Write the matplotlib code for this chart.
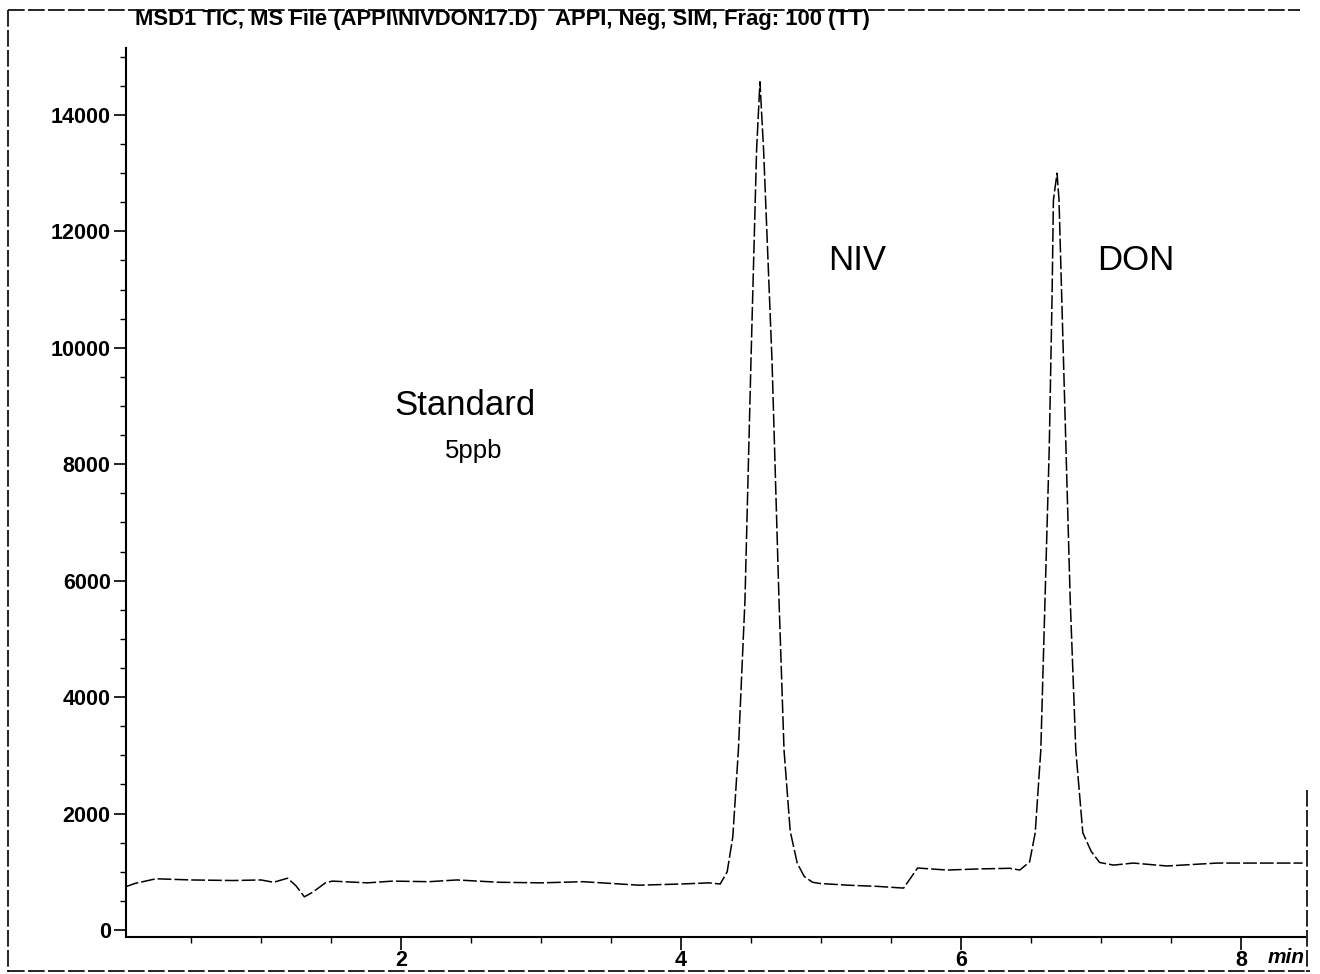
import numpy as np
import matplotlib
matplotlib.use("Agg")
import matplotlib.pyplot as plt
from matplotlib.ticker import MultipleLocator
from matplotlib.lines import Line2D

plt.rcParams['font.family'] = ['Liberation Sans', 'DejaVu Sans']

# TIC trace (time in min, abundance)
time = [0.03, 0.10, 0.25, 0.50, 0.80, 1.00, 1.09, 1.19, 1.25, 1.31, 1.37, 1.46,
        1.51, 1.76, 1.94, 2.20, 2.40, 2.70, 3.00, 3.30, 3.70, 4.00, 4.20, 4.28,
        4.33, 4.37, 4.41, 4.457, 4.50, 4.54, 4.564, 4.59, 4.65, 4.70, 4.736,
        4.78, 4.83, 4.88, 4.94, 4.99, 5.19, 5.40, 5.59, 5.69, 5.90, 6.14, 6.35,
        6.42, 6.49, 6.53, 6.57, 6.60, 6.63, 6.65, 6.66, 6.686, 6.70, 6.72, 6.75,
        6.78, 6.82, 6.87, 6.93, 6.99, 7.09, 7.23, 7.47, 7.83, 8.06, 8.44]
abund = [740, 800, 880, 860, 850, 860, 820, 890, 760, 570, 650, 810,
         840, 810, 840, 830, 860, 820, 810, 830, 770, 790, 810, 790,
         1000, 1600, 3090, 5670, 9790, 13400, 14570, 13400, 9790, 5670, 3090,
         1700, 1150, 920, 820, 800, 770, 750, 720, 1065, 1030, 1050, 1060,
         1030, 1170, 1670, 3090, 5670, 8250, 10820, 12540, 13000, 12540, 10820, 8250,
         5670, 3090, 1670, 1350, 1160, 1115, 1150, 1100, 1150, 1150, 1150]

title = "MSD1 TIC, MS File (APPI\\NIVDON17.D)   APPI, Neg, SIM, Frag: 100 (TT)"

fig = plt.figure(figsize=(13.2, 9.74), dpi=100)
ax = fig.add_axes([126/1320, 37/974, (1305-126)/1320, (937-48)/974])

ax.plot(time, abund, color='black', lw=1.1, linestyle=(0, (9, 2)))

ax.set_xlim(0.036, 8.457)
ax.set_ylim(-120, 15150)

ax.xaxis.set_major_locator(MultipleLocator(2))
ax.xaxis.set_minor_locator(MultipleLocator(0.5))
ax.yaxis.set_major_locator(MultipleLocator(2000))
ax.yaxis.set_minor_locator(MultipleLocator(500))
ax.tick_params(axis='both', which='major', direction='out', length=9, width=1.2,
               labelsize=15.5, pad=2)
ax.tick_params(axis='x', which='major', pad=0)
ax.tick_params(axis='both', which='minor', direction='out', length=4, width=1.0)
for lab in ax.get_xticklabels() + ax.get_yticklabels():
    lab.set_fontweight('bold')

for s in ['top', 'right']:
    ax.spines[s].set_visible(False)
for s in ['left', 'bottom']:
    ax.spines[s].set_linewidth(1.5)

ax.text(1.0, -0.012, 'min', transform=ax.transAxes, fontsize=15, style='italic',
        fontweight='bold', ha='right', va='top', clip_on=False)

ax.text(5.05, 11500, 'NIV', fontsize=25, ha='left', va='center')
ax.text(6.97, 11500, 'DON', fontsize=25, ha='left', va='center')
ax.text(2.46, 9010, 'Standard', fontsize=25, ha='center', va='center')
ax.text(2.52, 8220, '5ppb', fontsize=18.5, ha='center', va='center')

# title line and outer frame of the printout
fig.text(135/1320, 1 - 20/974, title, fontsize=15.8, fontweight='bold',
         ha='left', va='center')
frame = dict(color='black', lw=1.2, linestyle=(0, (10, 2)))
fig.add_artist(Line2D([8/1320, 8/1320], [1 - 10/974, 1 - 972/974], **frame))
fig.add_artist(Line2D([8/1320, 1300/1320], [1 - 10/974, 1 - 10/974], **frame))
fig.add_artist(Line2D([8/1320, 1310/1320], [1 - 971/974, 1 - 971/974], **frame))
fig.add_artist(Line2D([1307/1320, 1307/1320], [1 - 790/974, 1 - 972/974], **frame))

fig.savefig('out.png', dpi=100)
